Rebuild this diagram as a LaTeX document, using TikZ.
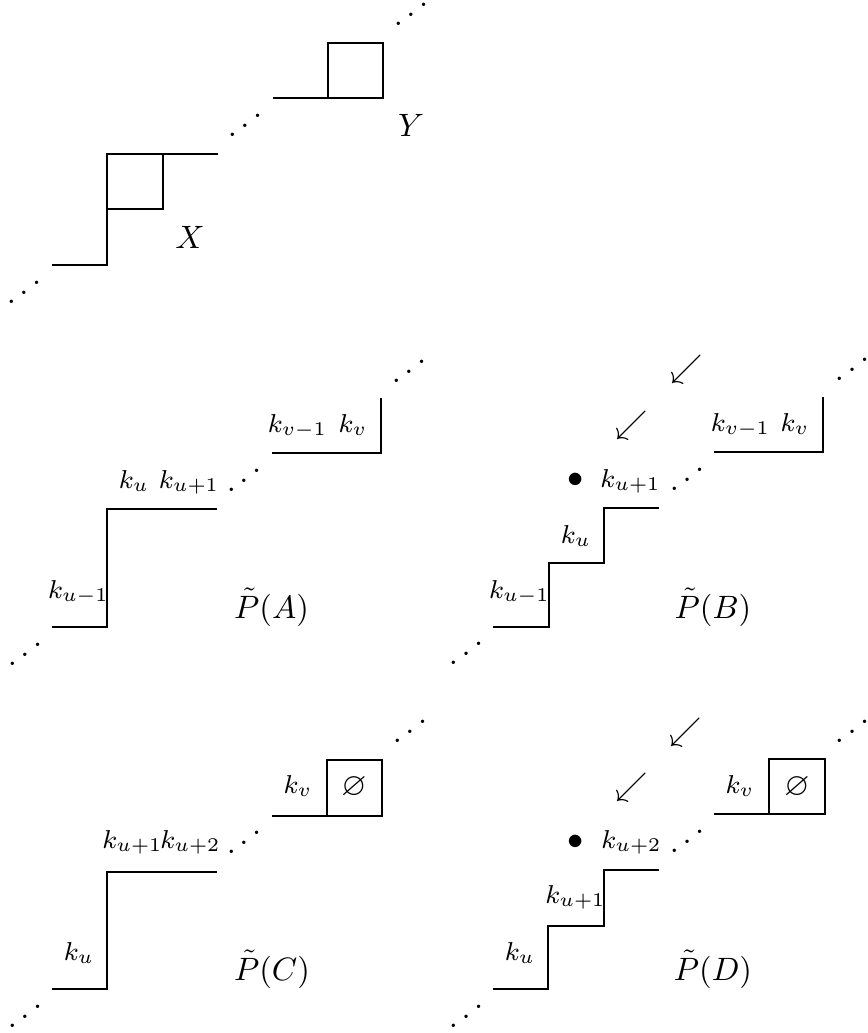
\documentclass[tikz,border=0pt]{standalone}
\usepackage{amsmath}
\usepackage{amssymb}
\newcommand{\stairdots}{\reflectbox{$\ddots$}}

\begin{document}
\begin{tikzpicture}[x=0.01087cm, y=-0.01087cm, every node/.style={inner sep=0pt}]
  % label styles
  \tikzset{lbl/.style={font=\footnotesize, anchor=base}, tag/.style={anchor=base}, dts/.style={anchor=base}}

  \useasboundingbox (0,0) rectangle (867,1033);

  % top row: X and Y
  \draw (52,265) -- (107,265) -- (107,154) -- (218,154);
  \draw (107,209) -- (163,209) -- (163,154);
  \draw (273,98) -- (383,98) -- (383,43) -- (328,43) -- (328,98);
  \node[tag] (X) at (190,248) {$X$};
  \node[tag] (Y) at (411,136) {$Y$};
  \node[dts] (t-d1) at (24,307) {\stairdots};
  \node[dts] (t-d2) at (245,140) {\stairdots};
  \node[dts] (t-d3) at (411,29) {\stairdots};

  % P(A)
  \begin{scope}
    \draw (52,627) -- (107,627) -- (107,509) -- (217,509);
    \draw (272,453) -- (381,453) -- (381,398);
    \node[lbl] (A-kum) at (78.5,598) {$k_{u-1}$};
    \node[lbl] (A-ku) at (134,488) {$k_u$};
    \node[lbl] (A-kup) at (189,488) {$k_{u+1}$};
    \node[lbl] (A-kvm) at (297.5,432) {$k_{v-1}$};
    \node[lbl] (A-kv) at (353,432) {$k_v$};
    \node[tag] (A-P) at (271.5,618) {$\tilde{P}(A)$};
    \node[dts] (A-d1) at (25,669) {\stairdots};
    \node[dts] (A-d2) at (244,495) {\stairdots};
    \node[dts] (A-d3) at (409,386) {\stairdots};
  \end{scope}

  % P(B)
  \begin{scope}[shift={(441,0)}]
    \draw (52,627) -- (108,627) -- (108,563) -- (163,563) -- (163,508) -- (218,508);
    \draw (273,452) -- (382,452) -- (382,397);
    \node[lbl] (B-kum) at (78.5,598) {$k_{u-1}$};
    \node[lbl] (B-ku) at (135,543) {$k_u$};
    \node[lbl] (B-kup) at (189.5,487) {$k_{u+1}$};
    \node[lbl] (B-kvm) at (299.5,431) {$k_{v-1}$};
    \node[lbl] (B-kv) at (354,431) {$k_v$};
    \node (B-dot) at (135,480) {$\bullet$};
    \node (B-a1) at (190.5,425) {$\swarrow$};
    \node (B-a2) at (245.5,369.5) {$\swarrow$};
    \node[tag] (B-P) at (272,618) {$\tilde{P}(B)$};
    \node[dts] (B-d1) at (25,668) {\stairdots};
    \node[dts] (B-d2) at (246,494) {\stairdots};
    \node[dts] (B-d3) at (411,384) {\stairdots};
  \end{scope}

  % P(C)
  \begin{scope}[shift={(0,362)}]
    \draw (52,627) -- (107,627) -- (107,510) -- (217,510);
    \draw (272,454) -- (382,454) -- (382,398) -- (327,398) -- (327,454);
    \node[lbl] (C-ku) at (79,598) {$k_u$};
    \node[lbl] (C-kup) at (132.5,486) {$k_{u+1}$};
    \node[lbl] (C-kupp) at (190.5,486) {$k_{u+2}$};
    \node[lbl] (C-kv) at (298,431) {$k_v$};
    \node[tag] (C-e) at (354,433) {$\varnothing$};
    \node[tag] (C-P) at (272,618) {$\tilde{P}(C)$};
    \node[dts] (C-d1) at (25,669) {\stairdots};
    \node[dts] (C-d2) at (244,495) {\stairdots};
    \node[dts] (C-d3) at (410,384) {\stairdots};
  \end{scope}

  % P(D)
  \begin{scope}[shift={(441,362)}]
    \draw (52,627) -- (107,627) -- (107,564) -- (163,564) -- (163,508) -- (218,508);
    \draw (273,452) -- (384,452) -- (384,397) -- (328,397) -- (328,452);
    \node[lbl] (D-ku) at (79,598) {$k_u$};
    \node[lbl] (D-kup) at (134.5,541) {$k_{u+1}$};
    \node[lbl] (D-kupp) at (190.5,486) {$k_{u+2}$};
    \node[lbl] (D-kv) at (299,431) {$k_v$};
    \node[tag] (D-e) at (356,433) {$\varnothing$};
    \node (D-dot) at (135,480) {$\bullet$};
    \node (D-a1) at (191,425) {$\swarrow$};
    \node (D-a2) at (245,370) {$\swarrow$};
    \node[tag] (D-P) at (272,618) {$\tilde{P}(D)$};
    \node[dts] (D-d1) at (25,669) {\stairdots};
    \node[dts] (D-d2) at (246,494) {\stairdots};
    \node[dts] (D-d3) at (411,384) {\stairdots};
  \end{scope}
\end{tikzpicture}
\end{document}
